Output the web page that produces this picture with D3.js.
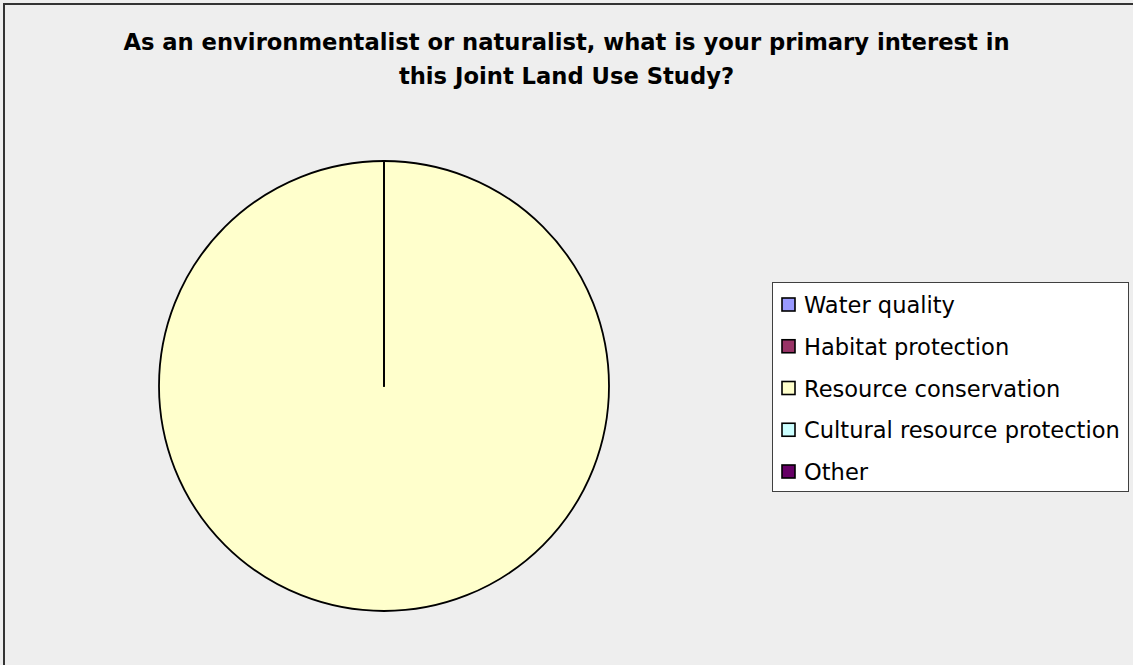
<!DOCTYPE html>
<html>
<head>
<meta charset="utf-8">
<script src="https://cdn.jsdelivr.net/npm/d3@7"></script>
<style>
  html, body { margin: 0; padding: 0; background: #eeeeee; }
  svg { display: block; }
</style>
</head>
<body>
<script>
// Survey answers (percent of respondents)
const categories = ["Water quality", "Habitat protection", "Resource conservation", "Cultural resource protection", "Other"];
const values = [0, 0, 100, 0, 0];
const colors = ["#9999ff", "#993366", "#ffffcc", "#ccffff", "#660066"];
const titleLines = [
  "As an environmentalist or naturalist, what is your primary interest in",
  "this Joint Land Use Study?"
];

const W = 1133, H = 665;
const svg = d3.select("body").append("svg").attr("width", W).attr("height", H);

// Chart area with its frame (runs past the right and bottom edges)
svg.append("rect")
  .attr("x", 4).attr("y", 4).attr("width", W + 20).attr("height", H + 20)
  .attr("fill", "#eeeeee").attr("stroke", "#333333").attr("stroke-width", 2);

// Fit a font size so that a string spans the given width
function fitSize(text, family, weight, target) {
  const t = svg.append("text").attr("font-family", family).attr("font-weight", weight)
    .attr("font-size", 20).text(text);
  const w = t.node().getComputedTextLength();
  t.remove();
  return 20 * target / w;
}

// Title
const titleFont = "'DejaVu Sans', Verdana, sans-serif";
const titleSize = fitSize(titleLines[0], titleFont, "bold", 887);
svg.append("g").selectAll("text").data(titleLines).join("text")
  .attr("x", 566.5)
  .attr("y", (d, i) => 50 + i * 34)
  .attr("text-anchor", "middle")
  .attr("font-family", titleFont).attr("font-weight", "bold")
  .attr("font-size", titleSize)
  .attr("fill", "#000")
  .text(d => d);

// Pie
const cx = 384, cy = 386, r = 225;
const pie = d3.pie().sort(null).value(d => d.value);
const arc = d3.arc().innerRadius(0).outerRadius(r);
const slices = pie(categories.map((c, i) => ({ name: c, value: values[i], color: colors[i] })));

svg.append("g").attr("transform", `translate(${cx},${cy})`)
  .selectAll("path").data(slices).join("path")
  .attr("d", arc)
  .attr("fill", d => d.data.color)
  .attr("stroke", "#000")
  .attr("stroke-width", 1.8)
  .attr("stroke-linejoin", "round");

// Legend
const legX = 772, legY = 282, legW = 356, legH = 209;
const legend = svg.append("g");
legend.append("rect")
  .attr("x", legX + 0.5).attr("y", legY + 0.5).attr("width", legW).attr("height", legH)
  .attr("fill", "#ffffff").attr("stroke", "#404040").attr("stroke-width", 1);

const legFont = "'DejaVu Sans', Tahoma, sans-serif";
const legSize = fitSize(categories[3], legFont, "normal", 316);
const rowY = d3.scalePoint().domain(categories).range([305, 472]);

const rows = legend.selectAll("g.row").data(categories).join("g")
  .attr("class", "row")
  .attr("transform", d => `translate(0,${rowY(d)})`);
rows.append("rect")
  .attr("x", 782).attr("y", -7).attr("width", 13).attr("height", 13)
  .attr("fill", (d, i) => colors[i]).attr("stroke", "#000").attr("stroke-width", 1.6);
rows.append("text")
  .attr("x", 804).attr("y", 0).attr("dy", "0.36em")
  .attr("font-family", legFont).attr("font-size", legSize)
  .attr("fill", "#000")
  .text(d => d);
</script>
</body>
</html>
